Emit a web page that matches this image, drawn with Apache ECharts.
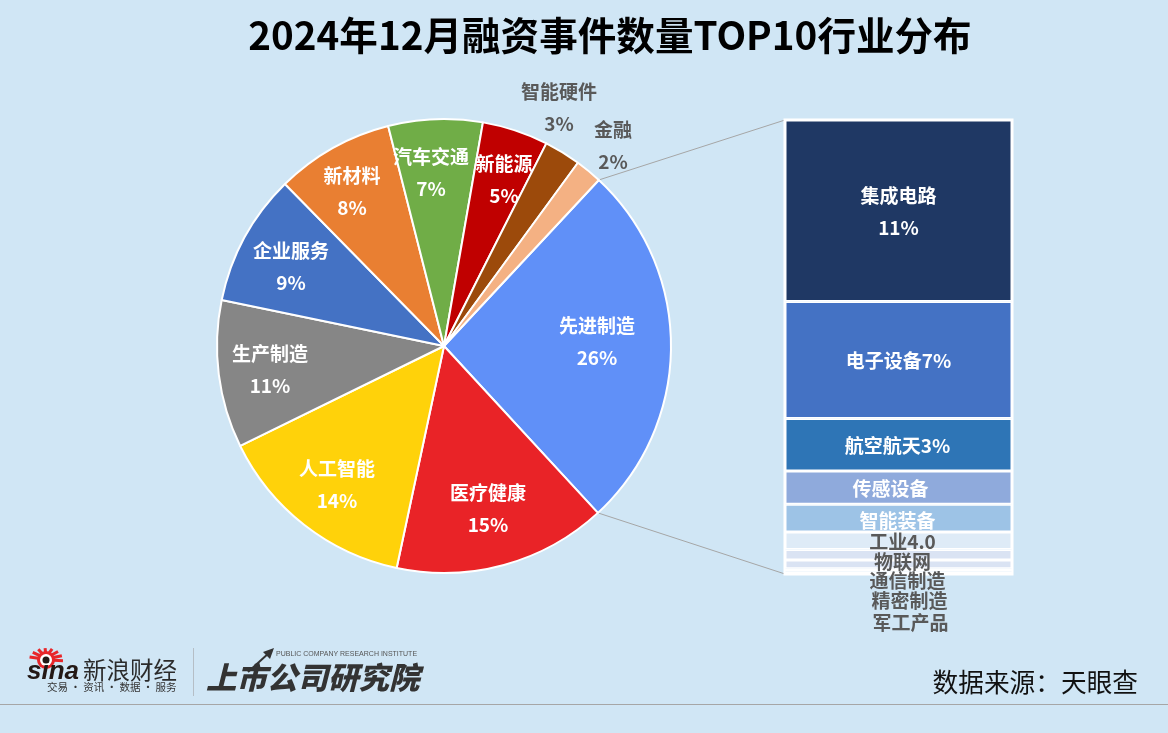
<!DOCTYPE html>
<html lang="zh">
<head>
<meta charset="UTF-8">
<title>2024年12月融资事件数量TOP10行业分布</title>
<script src="https://cdn.jsdelivr.net/npm/echarts@6/dist/echarts.min.js"></script>
<style>
    html, body { margin: 0; padding: 0; background: #D0E6F5; }
    #main { width: 1168px; height: 733px; }
</style>
</head>
<body>
<div id="main"></div>
<script>
    var titleText = '2024年12月融资事件数量TOP10行业分布';
    var sourceText = '数据来源：天眼查';

    // 饼图
    var pieNames = ['先进制造', '医疗健康', '人工智能', '生产制造', '企业服务', '新材料', '汽车交通', '新能源', '智能硬件', '金融'];
    var pieValues = [26.2, 15.2, 14.4, 10.5, 9.4, 8.4, 6.7, 4.7, 2.6, 1.9];
    var pieColors = ['#6090F8', '#E92327', '#FFD20A', '#868686', '#4472C4', '#E97F32', '#70AD47', '#C00000', '#9C4A0B', '#F4B183'];
    var pieLabelColors = ['#fff', '#fff', '#fff', '#fff', '#fff', '#fff', '#fff', '#fff', '#595959', '#595959'];
    // 标签中心位置
    var pieLabelPos = [[597, 342], [488, 509], [337, 485], [270, 370], [291, 267], [352, 192], [431, 173], [504, 180], [559, 108], [613, 146]];

    // 右侧堆叠柱（先进制造细分）
    var barNames = ['集成电路', '电子设备', '航空航天', '传感设备', '智能装备', '工业4.0', '物联网', '通信制造', '精密制造', '军工产品'];
    var barValues = [10.4, 6.7, 3.0, 1.9, 1.6, 1.0, 0.6, 0.5, 0.15, 0.15];
    var barShown = ['\n11%', '7%', '3%', '', '', '', '', '', '', ''];
    var barColors = ['#1F3864', '#4472C4', '#2E75B6', '#8FAADC', '#9DC3E6', '#DEEBF7', '#DAE3F3', '#DAE3F3', '#FFFFFF', '#FFFFFF'];
    var barLabelColors = ['#fff', '#fff', '#fff', '#fff', '#fff', '#595959', '#595959', '#595959', '#595959', '#595959'];
    var barLabelOffset = [[0, 1], [0, 1], [-1, 1], [-8, 1], [-1, 3], [4, 1], [4, 7], [9, 16], [11, 31], [12, 50]];

    var font = '"Noto Sans CJK SC"';
    var pieCenter = [444, 346], pieRadius = 227, pieStart = 47;
    var gridBox = { left: 785, top: 120, width: 227, height: 454 };

    var myChart = echarts.init(document.getElementById('main'), null, { renderer: 'canvas' });

    var pieData = pieNames.map(function (n, i) {
        return {
            name: n, value: pieValues[i],
            itemStyle: { color: pieColors[i] },
            label: { color: pieLabelColors[i] }
        };
    });

    var barSeries = barNames.map(function (n, i) {
        return {
            type: 'bar', stack: 'a', name: n, barWidth: '100%',
            data: [barValues[i]],
            itemStyle: { color: barColors[i], borderColor: '#fff', borderWidth: 1.5 },
            label: {
                show: true, position: 'inside', offset: barLabelOffset[i],
                formatter: n + barShown[i],
                color: barLabelColors[i], fontFamily: font, fontWeight: 'bold', fontSize: 19, lineHeight: 32
            },
            z: 3
        };
    });

    // 连接线：饼图扇区两端到柱子的上下角
    function edgePoint(deg) {
        var a = deg * Math.PI / 180;
        return [pieCenter[0] + pieRadius * Math.cos(a), pieCenter[1] - pieRadius * Math.sin(a)];
    }
    var p1 = edgePoint(pieStart), p2 = edgePoint(pieStart - pieValues[0] / 100 * 360);
    var lineStyle = { stroke: '#A6A6A6', lineWidth: 1 };
    var frameBottom = gridBox.top + gridBox.height;

    // 图标：新浪眼睛的射线
    var rays = [];
    for (var k = 0; k < 8; k++) {
        var ang = (165 - k * 24) * Math.PI / 180;
        rays.push({
            type: 'line', silent: true,
            shape: { x1: 46 + 8 * Math.cos(ang), y1: 660 - 7 * Math.sin(ang), x2: 46 + 17 * Math.cos(ang), y2: 660 - 12 * Math.sin(ang) },
            style: { stroke: '#E8262A', lineWidth: 3 }
        });
    }

    var option = {
        animation: false,
        backgroundColor: '#D0E6F5',
        title: {
            text: titleText, left: 605, top: 11, textAlign: 'center',
            textStyle: { fontFamily: font, fontWeight: 'bold', fontSize: 38.6, color: '#000' }
        },
        grid: { left: gridBox.left, top: gridBox.top, width: gridBox.width, height: gridBox.height, containLabel: false },
        xAxis: { type: 'category', data: ['先进制造'], show: false },
        yAxis: { type: 'value', inverse: true, min: 0, max: 26, show: false },
        series: [{
            type: 'pie',
            center: pieCenter,
            radius: pieRadius,
            startAngle: pieStart,
            clockwise: true,
            percentPrecision: 0,
            avoidLabelOverlap: false,
            itemStyle: { borderColor: '#fff', borderWidth: 2 },
            label: {
                show: true, position: 'inside',
                formatter: '{b}\n{d}%',
                fontFamily: font, fontWeight: 'bold', fontSize: 19, lineHeight: 32, align: 'center'
            },
            labelLine: { show: false },
            labelLayout: function (params) {
                var pos = pieLabelPos[params.dataIndex];
                return { x: pos[0], y: pos[1], align: 'center', verticalAlign: 'middle' };
            },
            data: pieData
        }].concat(barSeries),
        graphic: [
            { type: 'line', silent: true, shape: { x1: p1[0], y1: p1[1], x2: gridBox.left, y2: gridBox.top }, style: lineStyle },
            { type: 'line', silent: true, shape: { x1: p2[0], y1: p2[1], x2: gridBox.left, y2: frameBottom }, style: lineStyle },
            // 底部
            { type: 'line', silent: true, shape: { x1: 0, y1: 704.5, x2: 1168, y2: 704.5 }, style: { stroke: '#A6A6A6', lineWidth: 1 } },
            { type: 'line', silent: true, shape: { x1: 193.5, y1: 648, x2: 193.5, y2: 696 }, style: { stroke: '#B5BEC6', lineWidth: 1 } },
            { type: 'text', silent: true, style: { text: sourceText, x: 1138, y: 682, align: 'right', verticalAlign: 'middle', fontFamily: font, fontSize: 25.7, fill: '#111' } }
        ].concat(rays).concat([
            // 新浪财经 logo
            { type: 'circle', silent: true, shape: { cx: 46, cy: 660, r: 9 }, style: { fill: '#E8262A' } },
            { type: 'circle', silent: true, shape: { cx: 46, cy: 660, r: 6 }, style: { fill: '#fff' } },
            { type: 'circle', silent: true, shape: { cx: 46, cy: 660, r: 3.5 }, style: { fill: '#231815' } },
            { type: 'text', silent: true, style: { text: 'sina', x: 27, y: 672, verticalAlign: 'middle', fontFamily: 'Liberation Sans', fontStyle: 'italic', fontWeight: 'bold', fontSize: 26, fill: '#231815' } },
            { type: 'text', silent: true, style: { text: '新浪财经', x: 83, y: 670, verticalAlign: 'middle', fontFamily: font, fontSize: 23.5, fill: '#2B2B2B' } },
            { type: 'text', silent: true, style: { text: '交易 · 资讯 · 数据 · 服务', x: 47, y: 687, verticalAlign: 'middle', fontFamily: font, fontSize: 10.5, fill: '#333' } },
            // 上市公司研究院 logo
            { type: 'text', silent: true, style: { text: 'PUBLIC COMPANY RESEARCH INSTITUTE', x: 276, y: 654, verticalAlign: 'middle', fontFamily: 'Liberation Sans', fontSize: 7, fill: '#555' } },
            { type: 'text', silent: true, style: { text: '上市公司研究院', x: 206, y: 677, verticalAlign: 'middle', fontFamily: font, fontWeight: 900, fontStyle: 'italic', fontSize: 30.5, fill: '#333' } },
            { type: 'line', silent: true, shape: { x1: 248, y1: 672, x2: 270, y2: 652 }, style: { stroke: '#333', lineWidth: 2 } },
            { type: 'polygon', silent: true, shape: { points: [[274, 648], [263, 652], [270, 659]] }, style: { fill: '#333' } },
            // 柱子外框，压在柱子下面，不挡标签
            { type: 'rect', silent: true, z: 2, shape: { x: gridBox.left - 0.5, y: gridBox.top - 0.5, width: gridBox.width + 1, height: gridBox.height + 1 }, style: { fill: 'none', stroke: '#fff', lineWidth: 2 } }
        ])
    };

    myChart.setOption(option);
</script>
</body>
</html>
